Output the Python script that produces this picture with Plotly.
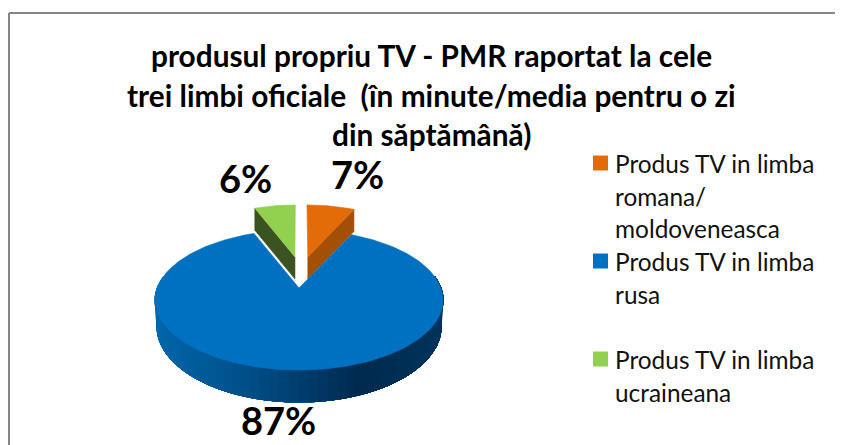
import numpy as np
import plotly.graph_objects as go

# ---- data ----
categories = ["Produs TV in limba romana/moldoveneasca", "Produs TV in limba rusa", "Produs TV in limba ucraineana"]
values = [7, 87, 6]
labels = ["7%", "87%", "6%"]
title_lines = ["produsul propriu TV - PMR raportat la cele",
               "trei limbi oficiale  (în minute/media pentru o zi",
               "din săptămână)"]
legend_lines = [["Produs TV in limba", "romana/", "moldoveneasca"],
                ["Produs TV in limba", "rusa"],
                ["Produs TV in limba", "ucraineana"]]
top_colors = ["#E36C09", "#0070C0", "#92D050"]
wall_colors = ["#A34F06", "#004B82", "#3B5320"]
FONT = "Lato"

# ---- projection of the tilted 3D pie ----
CX, AY, R, A, K = 299, 288, 141.9, 68, 0.171          # main slice, top face
DEPTH_AY, DEPTH_A, DEPTH_R = 314, 73, 140             # main slice, bottom face
X_R, X_A, X_K = 143, 72, 0.123                        # exploded slices


def top(u, v):
    d = 1 + K * v
    return CX + R * u / d, AY - A * v / d


def low(u, v):
    d = 1 + K * v
    return CX + DEPTH_R * u / d, DEPTH_AY - DEPTH_A * v / d


def xtop(u, v):
    d = 1 + X_K * v
    return CX + X_R * u / d, AY - X_A * v / d


def wall(u, v):
    x, y = xtop(u, v)
    return x, y + 22


fractions = np.array(values) / sum(values)
cum = np.concatenate([[0], np.cumsum(fractions)]) * 2 * np.pi
start = dict(orange=cum[0], blue=cum[1], green=cum[2])
end = dict(orange=cum[1], blue=cum[2], green=cum[3])

fig = go.Figure()


def poly(xs, ys, color):
    fig.add_trace(go.Scatter(x=list(xs), y=list(ys), mode="lines", fill="toself",
                             fillcolor=color, line=dict(color=color, width=0.6),
                             hoverinfo="skip", showlegend=False))


def sector(u0, v0, r, a0, a1, n=40):
    th = np.linspace(a0, a1, n)
    u = np.concatenate([[u0], u0 + r * np.sin(th), [u0]])
    v = np.concatenate([[v0], v0 + r * np.cos(th), [v0]])
    return u, v


# exploded orange slice: wall on its right edge, then top
ou, ov, er = 0.065, 0.455, 0.89
a = end["orange"]
p0 = xtop(ou, ov); p1 = xtop(ou + er * np.sin(a), ov + er * np.cos(a))
q0 = wall(ou, ov); q1 = wall(ou + er * np.sin(a), ov + er * np.cos(a))
poly([p0[0], p1[0], q1[0], q0[0], p0[0]], [p0[1], p1[1], q1[1], q0[1], p0[1]], wall_colors[0])
u, v = sector(ou, ov, er, start["orange"], end["orange"])
poly(*xtop(u, v), top_colors[0])

# exploded green slice: wall on its left edge, then top
gu, gv = -0.03, 0.455
a = start["green"]
p0 = xtop(gu, gv); p1 = xtop(gu + er * np.sin(a), gv + er * np.cos(a))
q0 = wall(gu, gv); q1 = wall(gu + er * np.sin(a), gv + er * np.cos(a))
poly([p0[0], p1[0], q1[0], q0[0], p0[0]], [p0[1], p1[1], q1[1], q0[1], p0[1]], wall_colors[2])
u, v = sector(gu, gv, er, start["green"], end["green"])
poly(*xtop(u, v), top_colors[2])

# blue slice: front rim with horizontal gradient, painted left to right without seams
stops_t = [0, 0.35, 0.7, 1]
stops_rgb = np.array([[0, 102, 170], [0, 75, 130], [0, 42, 78], [0, 52, 92]])
degs = np.linspace(280, 80, 61)
for d0 in degs[:-1]:
    th = np.radians(np.linspace(d0, 80, 60))
    ux, vx = np.sin(th), np.cos(th)
    tx, ty = top(ux, vx)
    lx, ly = low(ux, vx)
    t = np.clip((lx[0] - (CX - DEPTH_R)) / (2 * DEPTH_R), 0, 1)
    rgb = [int(np.interp(t, stops_t, stops_rgb[:, i])) for i in range(3)]
    poly(np.r_[tx, lx[::-1], tx[0]], np.r_[ty, ly[::-1], ty[0]], f"rgb({rgb[0]},{rgb[1]},{rgb[2]})")

u, v = sector(0, 0, 1, start["blue"], end["blue"], n=240)
poly(*top(u, v), top_colors[1])

# ---- texts ----
annotations = []


def text(x, y, s, size, bold=False, anchor="center", color="#000000"):
    annotations.append(dict(x=x, y=y, xref="x", yref="y", text=f"<b>{s}</b>" if bold else s,
                            showarrow=False, xanchor=anchor, yanchor="middle",
                            font=dict(family=FONT, size=size, color=color)))


for line, y in zip(title_lines, [55, 95, 134]):
    text(431, y, line, 29.8, bold=True)

for s, (x, y) in zip(labels, [(357, 174), (278, 420), (245, 178)]):
    text(x, y, s, 38, bold=True)

legend_y = [[163, 196, 228], [261, 294], [359, 392]]
for lines, ys, color, name in zip(legend_lines, legend_y, top_colors, categories):
    fig.add_trace(go.Scatter(x=[600.5], y=[ys[0]], mode="markers", name=name,
                             marker=dict(symbol="square", size=15, color=color, line=dict(width=0)),
                             hoverinfo="skip", showlegend=False))
    for s, y in zip(lines, ys):
        text(613, y, s, 24.4, anchor="left", color="#111111")

BORDER = dict(type="line", xref="x", yref="y", line=dict(color="#868686", width=2))
# the page body keeps its 8px margin, so the figure starts at (8, 8) in the window
fig.update_layout(
    width=835, height=437, margin=dict(l=0, r=0, t=0, b=0),
    paper_bgcolor="white", plot_bgcolor="white", showlegend=False,
    xaxis=dict(range=[8, 843], visible=False, fixedrange=True),
    yaxis=dict(range=[445, 8], visible=False, fixedrange=True),
    annotations=annotations,
    shapes=[dict(x0=9, x1=9, y0=13, y1=445, **BORDER), dict(x0=9, x1=843, y0=13, y1=13, **BORDER)],
)
fig.write_html("out.html", config=dict(displayModeBar=False))
